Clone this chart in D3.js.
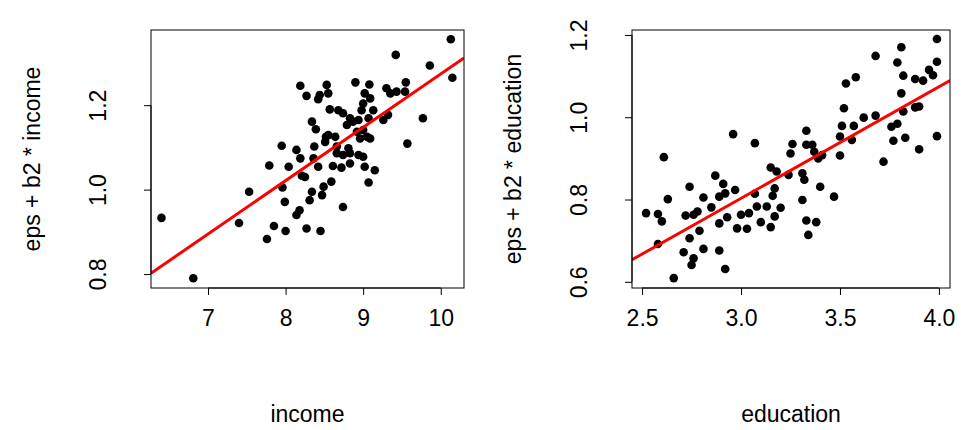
<!DOCTYPE html>
<meta charset="utf-8">
<script src="https://d3js.org/d3.v7.min.js"></script>
<style>body{margin:0;background:#fff}</style>
<div id="chart"></div>
<script>
// panel 1: income
var incomeX = [6.40,6.81,7.40,7.53,7.76,7.85,8.00,7.99,7.96,7.79,7.95,8.04,8.14,8.19,8.14,8.18,8.27,8.45,8.31,8.34,8.47,8.49,8.59,8.61,8.74,8.72,8.83,8.25,8.21,8.36,8.37,8.34,8.39,8.42,8.52,8.55,8.64,8.51,8.66,8.74,8.83,8.94,9.00,9.02,9.15,9.07,8.57,8.68,8.74,8.79,8.83,8.87,8.94,8.98,9.00,9.02,9.09,9.13,9.07,9.00,9.05,9.09,8.96,9.26,9.32,9.30,9.35,9.43,9.54,9.55,9.77,9.57,9.86,9.42,10.15,10.13,8.19,8.27,8.53,8.55,8.42,8.44,8.90,9.08,8.92,8.66,8.81];
var incomeY = [0.933,0.790,0.921,0.995,0.883,0.914,0.902,0.971,1.005,1.057,1.104,1.054,1.094,1.074,0.940,0.951,0.908,0.902,0.975,0.995,0.987,1.007,1.019,1.056,0.959,1.052,1.062,1.030,1.033,1.074,1.102,1.161,1.143,1.054,1.125,1.129,1.125,1.113,1.086,1.082,1.086,1.082,1.078,1.054,1.046,1.017,1.190,1.188,1.181,1.153,1.169,1.161,1.165,1.188,1.204,1.228,1.216,1.188,1.169,1.141,1.125,1.121,1.121,1.165,1.177,1.240,1.228,1.232,1.232,1.254,1.169,1.109,1.294,1.319,1.265,1.356,1.246,1.222,1.248,1.228,1.214,1.224,1.254,1.249,1.137,1.102,1.098];
var incomeFit = {a: 0.010, b: 0.1264};
var incomeXTicks = [7,8,9,10];
var incomeYTicks = [0.8,1.0,1.2];

// panel 2: education
var eduX = [2.52,2.58,2.60,2.58,2.61,2.63,2.66,2.71,2.72,2.74,2.74,2.76,2.76,2.75,2.78,2.79,2.81,2.81,2.85,2.87,2.89,2.89,2.89,2.91,2.92,2.92,2.93,2.96,2.97,2.98,3.00,3.03,3.04,3.07,3.08,3.07,3.10,3.13,3.15,3.15,3.16,3.17,3.17,3.18,3.20,3.24,3.25,3.26,3.31,3.31,3.32,3.33,3.33,3.33,3.34,3.36,3.37,3.38,3.39,3.40,3.41,3.47,3.50,3.50,3.51,3.52,3.53,3.56,3.57,3.58,3.62,3.68,3.68,3.72,3.76,3.77,3.79,3.79,3.81,3.81,3.82,3.82,3.83,3.88,3.88,3.90,3.90,3.92,3.95,3.97,3.99,3.99,3.99];
var eduY = [0.767,0.765,0.747,0.692,0.903,0.801,0.609,0.672,0.761,0.831,0.706,0.763,0.657,0.641,0.771,0.724,0.805,0.680,0.781,0.858,0.807,0.676,0.742,0.838,0.631,0.815,0.757,0.959,0.823,0.730,0.763,0.729,0.767,0.814,0.783,0.937,0.745,0.783,0.878,0.733,0.809,0.759,0.827,0.868,0.780,0.860,0.912,0.935,0.864,0.799,0.848,0.967,0.749,0.933,0.714,0.933,0.916,0.745,0.900,0.831,0.908,0.807,0.907,0.953,0.979,1.022,1.082,0.945,0.979,1.097,0.999,1.149,1.004,0.892,0.977,0.943,1.133,0.984,1.058,1.170,1.101,1.014,0.950,1.093,1.024,0.922,1.026,1.089,1.115,1.102,0.954,1.135,1.190];
var eduFit = {a: -0.010, b: 0.271};
var eduXTicks = [2.5,3.0,3.5,4.0];
var eduYTicks = [0.6,0.8,1.0,1.2];

var svg = d3.select("#chart").append("svg")
    .attr("width", 961).attr("height", 430)
    .style("font-family", "Liberation Sans, Arial, sans-serif");

function panel(box, xs, ys, fit, xd, yd, xt, yt, xlab, ylab, fmt) {
  var x = d3.scaleLinear().domain(xd).range([box.l, box.r]);
  var y = d3.scaleLinear().domain(yd).range([box.b, box.t]);
  var g = svg.append("g");

  var pts = xs.map(function(v, i) { return [v, ys[i]]; });
  g.selectAll("circle").data(pts).enter().append("circle")
    .attr("cx", function(d) { return x(d[0]); })
    .attr("cy", function(d) { return y(d[1]); })
    .attr("r", 4.3).attr("fill", "#000");

  // fitted line, clipped to the box
  var clipId = "clip" + box.l;
  svg.append("clipPath").attr("id", clipId).append("rect")
    .attr("x", box.l).attr("y", box.t).attr("width", box.r - box.l).attr("height", box.b - box.t);
  g.append("line")
    .attr("clip-path", "url(#" + clipId + ")")
    .attr("x1", x(xd[0])).attr("y1", y(fit.a + fit.b * xd[0]))
    .attr("x2", x(xd[1])).attr("y2", y(fit.a + fit.b * xd[1]))
    .attr("stroke", "#ff0000").attr("stroke-width", 3);

  g.append("rect").attr("x", box.l).attr("y", box.t)
    .attr("width", box.r - box.l).attr("height", box.b - box.t)
    .attr("fill", "none").attr("stroke", "#000").attr("stroke-width", 1);

  var xa = g.append("g").attr("transform", "translate(0," + box.b + ")")
    .call(d3.axisBottom(x).tickValues(xt).tickFormat(fmt.x).tickSize(7).tickSizeOuter(0).tickPadding(15));
  xa.select(".domain").attr("d", "M" + x(xt[0]) + ",0H" + x(xt[xt.length - 1]));
  xa.selectAll("text").style("font-size", "23px").attr("fill", "#000");

  var ya = g.append("g").attr("transform", "translate(" + box.l + ",0)")
    .call(d3.axisLeft(y).tickValues(yt).tickFormat(fmt.y).tickSize(7).tickSizeOuter(0).tickPadding(0));
  ya.select(".domain").attr("d", "M0," + y(yt[0]) + "V" + y(yt[yt.length - 1]));
  ya.selectAll("text").style("font-size", "23px").attr("fill", "#000")
    .attr("text-anchor", "middle").attr("x", 0).attr("dy", 0)
    .attr("transform", "translate(-45,0) rotate(-90)");

  g.append("text").attr("x", (box.l + box.r) / 2).attr("y", 422)
    .attr("text-anchor", "middle").style("font-size", "23px").text(xlab);
  g.append("text").attr("transform", "translate(" + (box.l - 111) + "," + ((box.t + box.b) / 2) + ") rotate(-90)")
    .attr("text-anchor", "middle").style("font-size", "23px").text(ylab);
}

panel({l: 151, r: 464, t: 30, b: 288}, incomeX, incomeY, incomeFit,
  [6.265, 10.30], [0.767, 1.378], incomeXTicks, incomeYTicks, "income", "eps + b2 * income",
  {x: d3.format("d"), y: d3.format(".1f")});
panel({l: 632, r: 950, t: 30, b: 288}, eduX, eduY, eduFit,
  [2.449, 4.056], [0.585, 1.212], eduXTicks, eduYTicks, "education", "eps + b2 * education",
  {x: d3.format(".1f"), y: d3.format(".1f")});
</script>
